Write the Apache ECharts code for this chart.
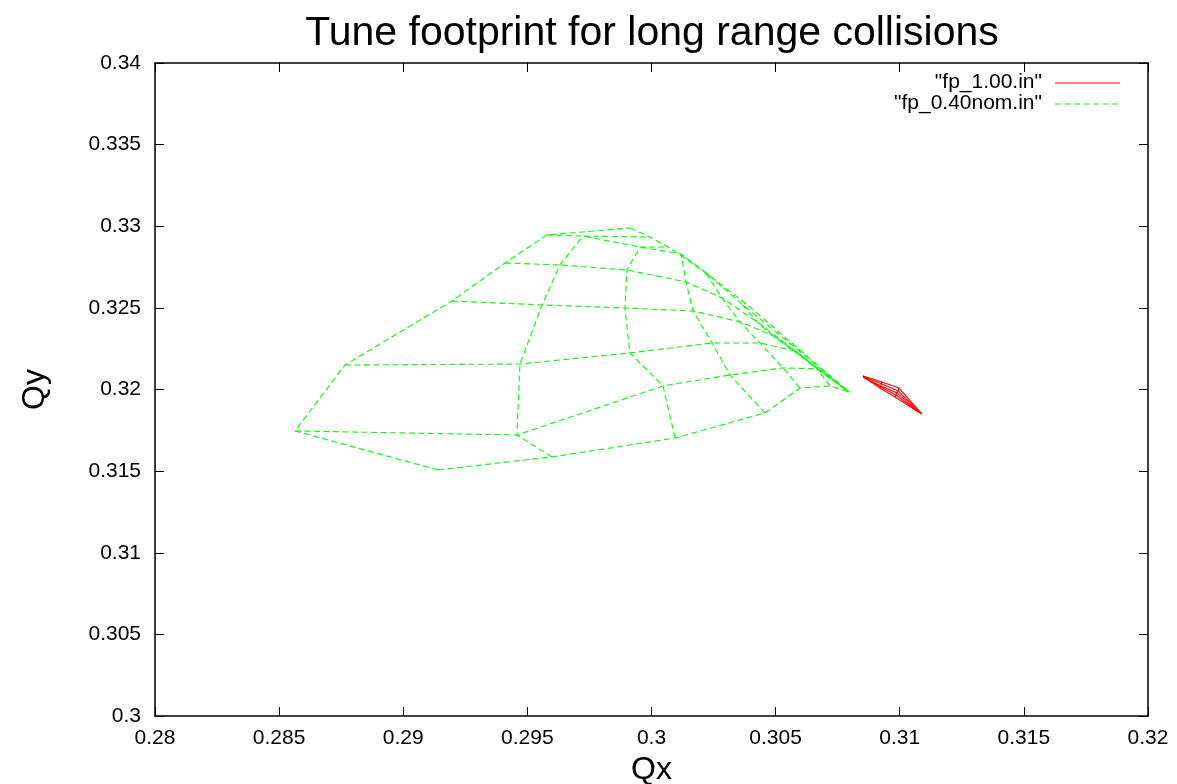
<!DOCTYPE html>
<html><head><meta charset="utf-8">
<script src="https://cdn.jsdelivr.net/npm/echarts@6/dist/echarts.min.js"></script>
<style>html,body{margin:0;padding:0;background:#fff}#c{width:1177px;height:784px}</style>
</head><body><div id="c"></div>
<script>
// Axis ticks
const xTicks = [0.28, 0.285, 0.29, 0.295, 0.3, 0.305, 0.31, 0.315, 0.32];
const yTicks = [0.3, 0.305, 0.31, 0.315, 0.32, 0.325, 0.33, 0.335, 0.34];

// "fp_0.40nom.in" footprint: rows of constant angle, from max amplitude to small amplitude
const green_row0 = [[0.29140,0.31507],[0.29599,0.31587],[0.30095,0.31703],[0.30457,0.31856],[0.30598,0.32009],[0.30719,0.32022],[0.30795,0.31985]];
const green_row1 = [[0.28564,0.31746],[0.29458,0.31721],[0.30046,0.32022],[0.30316,0.32089],[0.30530,0.32132],[0.30667,0.32126],[0.30795,0.31985]];
const green_row2 = [[0.28765,0.32150],[0.29470,0.32156],[0.29913,0.32224],[0.30244,0.32285],[0.30437,0.32285],[0.30578,0.32236],[0.30795,0.31985]];
const green_row3 = [[0.29196,0.32542],[0.29559,0.32518],[0.29893,0.32499],[0.30167,0.32481],[0.30356,0.32414],[0.30485,0.32334],[0.30795,0.31985]];
const green_row4 = [[0.29410,0.32775],[0.29631,0.32763],[0.29901,0.32732],[0.30139,0.32659],[0.30284,0.32561],[0.30425,0.32414],[0.30795,0.31985]];
const green_row5 = [[0.29579,0.32947],[0.29724,0.32940],[0.29954,0.32873],[0.30119,0.32830],[0.30215,0.32720],[0.30364,0.32524],[0.30795,0.31985]];
const green_row6 = [[0.29913,0.32989],[0.29994,0.32934],[0.30066,0.32873],[0.30139,0.32800],[0.30235,0.32695],[0.30377,0.32530],[0.30795,0.31985]];

// "fp_1.00.in" footprint
const red_row0 = [[0.30852,0.32083],[0.30928,0.32046],[0.30997,0.32009],[0.31089,0.31850]];
const red_row1 = [[0.30852,0.32083],[0.30928,0.32034],[0.30993,0.31991],[0.31085,0.31856]];
const red_row2 = [[0.30852,0.32077],[0.30924,0.32022],[0.30989,0.31979],[0.31077,0.31862]];
const red_row3 = [[0.30852,0.32077],[0.30924,0.32015],[0.30985,0.31966],[0.31069,0.31868]];
const red_row4 = [[0.30856,0.32077],[0.30920,0.32009],[0.30981,0.31954],[0.31061,0.31875]];

const RED_NAME = '"fp_1.00.in"';
const GREEN_NAME = '"fp_0.40nom.in"';

const FONT = '"Liberation Sans", Arial, Helvetica, sans-serif';
const RED = '#ff0000';
const GREEN = '#00ff00';
const DASH = [6, 3.5];

function meshSeries(rows, name, color, dash) {
  const out = [];
  const lines = rows.slice();
  const nCols = rows[0].length;
  for (let j = 0; j < nCols; j++) lines.push(rows.map(r => r[j]));
  lines.forEach(pts => {
    out.push({
      type: 'line', name: name, data: pts, symbol: 'none', silent: true,
      lineStyle: { color: color, width: 1.1, type: dash },
      itemStyle: { color: color }, z: 3
    });
  });
  return out;
}

const series = []
  .concat(meshSeries([red_row0, red_row1, red_row2, red_row3, red_row4], RED_NAME, RED, 'solid'))
  .concat(meshSeries([green_row0, green_row1, green_row2, green_row3, green_row4, green_row5, green_row6], GREEN_NAME, GREEN, DASH));

const fmt = v => String(+v.toFixed(4));
const axisCommon = {
  type: 'value',
  axisLine: { show: true, onZero: false, lineStyle: { color: '#000', width: 1.5 } },
  axisTick: { show: true, inside: true, length: 9, lineStyle: { color: '#000', width: 1 } },
  splitLine: { show: false }
};

// Legend (gnuplot key style: text right-aligned, sample line on the right)
function keyEntry(label, y, color, dash) {
  return [
    { type: 'text', right: 1177 - 1042, top: y - 11,
      style: { text: label, font: '21px ' + FONT, fill: '#000', textAlign: 'right' } },
    { type: 'line', shape: { x1: 1055, y1: y, x2: 1120, y2: y },
      style: { stroke: color, lineWidth: 1, lineDash: dash === 'solid' ? null : dash } }
  ];
}

const chart = echarts.init(document.getElementById('c'), null, { renderer: 'canvas' });
chart.setOption({
  animation: false,
  backgroundColor: '#fff',
  title: {
    text: 'Tune footprint for long range collisions',
    left: 647, top: 8, textAlign: 'center',
    textStyle: { fontFamily: FONT, fontSize: 41, fontWeight: 'normal', color: '#000' }
  },
  graphic: [].concat(keyEntry(RED_NAME, 83, RED, 'solid'), keyEntry(GREEN_NAME, 104, GREEN, DASH)),
  grid: { left: 155, top: 63, width: 993, height: 653, containLabel: false, outerBoundsMode: 'none' },
  xAxis: [
    Object.assign({}, axisCommon, {
      min: xTicks[0], max: xTicks[xTicks.length - 1], interval: xTicks[1] - xTicks[0],
      position: 'bottom',
      name: 'Qx', nameLocation: 'middle', nameGap: 36,
      nameTextStyle: { fontFamily: FONT, fontSize: 32, color: '#000' },
      axisLabel: { fontFamily: FONT, fontSize: 21, color: '#000', margin: 12, formatter: fmt }
    }),
    Object.assign({}, axisCommon, {
      min: xTicks[0], max: xTicks[xTicks.length - 1], interval: xTicks[1] - xTicks[0],
      position: 'top', axisLabel: { show: false }
    })
  ],
  yAxis: [
    Object.assign({}, axisCommon, {
      min: yTicks[0], max: yTicks[yTicks.length - 1], interval: yTicks[1] - yTicks[0],
      position: 'left',
      name: 'Qy', nameLocation: 'middle', nameGap: 104, nameRotate: 90,
      nameTextStyle: { fontFamily: FONT, fontSize: 32, color: '#000' },
      axisLabel: { fontFamily: FONT, fontSize: 21, color: '#000', margin: 14, formatter: fmt }
    }),
    Object.assign({}, axisCommon, {
      min: yTicks[0], max: yTicks[yTicks.length - 1], interval: yTicks[1] - yTicks[0],
      position: 'right', axisLabel: { show: false }
    })
  ],
  series: series
});
</script>
</body></html>
